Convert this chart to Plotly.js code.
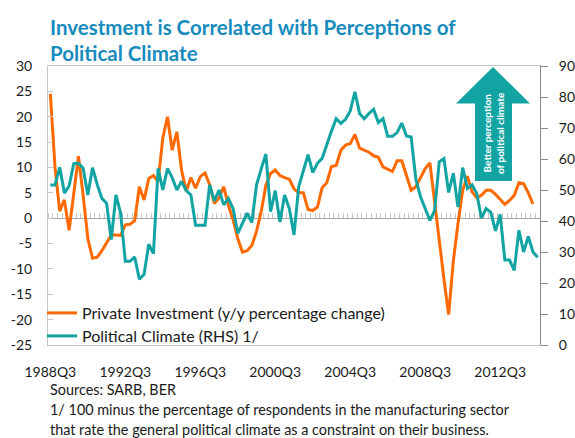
<!DOCTYPE html>
<html>
<head>
<meta charset="utf-8">
<script src="https://cdn.plot.ly/plotly-3.0.1.min.js"></script>
<style>
html,body{margin:0;padding:0;background:#fff;}
#chart{width:575px;height:438px;}
</style>
</head>
<body>
<div id="chart"></div>
<script>
// Quarterly categories 1988Q3 .. 2014Q3
const startYear = 1988, startQuarter = 3, nQuarters = 105;
const quarters = [];
for (let k = 0; k < nQuarters; k++) {
  const q = startQuarter - 1 + k;
  quarters.push((startYear + Math.floor(q / 4)) + 'Q' + (q % 4 + 1));
}
const xTickLabels = ['1988Q3','1992Q3','1996Q3','2000Q3','2004Q3','2008Q3','2012Q3'];
const leftTickVals = [-25,-20,-15,-10,-5,0,5,10,15,20,25,30];
const leftTickText = ['-25','-20','-15','-10','-5','0','5','10','15','20','25','30'];
const rightTickVals = [0,10,20,30,40,50,60,70,80,90];

// Private investment, y/y % change (left axis)
const privateInvestment = [
  24.5, 10, 1.4, 3.6, -2.4, 5, 12.2, 4.5, -4, -7.9,
  -7.7, -6.4, -4.8, -3.3, -3.3, -3.4, -1.3, -1.2, -0.5, 6.2,
  3.6, 7.8, 8.4, 7.2, 15.8, 20, 13.4, 17, 9.5, 5.3,
  8, 5.9, 8.2, 8.9, 6.6, 2.9, 4, 6.2, 2.5, -0.3,
  -4, -6.7, -6.4, -5.4, -2.6, 1.3, 6.5, 8.8, 9.5, 8.4,
  8, 7.7, 5.8, 5, 5, 1.7, 1.5, 2.2, 6, 7,
  10.2, 10.4, 13.4, 14.4, 14.7, 16.5, 13.8, 13.4, 13, 12.3,
  12, 10.1, 9.7, 9.2, 11.3, 11.3, 8.4, 5.5, 6.2, 8,
  9.8, 10.9, 3, -4.5, -12, -19, -8.5, -1, 5.5, 8.3,
  5.2, 4, 4.5, 5.5, 5.5, 4.7, 3.8, 2.7, 3.5, 4.5,
  7, 6.8, 5, 2.8, null
];

// Political climate index (right axis)
const politicalClimate = [
  51.6, 51.6, 57.3, 49, 51.3, 58.5, 58.6, 57, 48.4, 57.2,
  51.8, 47.3, 45.7, 34, 48.4, 42.5, 27, 27, 28.4, 21.2,
  22.8, 32.5, 29.5, 57, 50, 57, 54, 50, 52.8, 49.8,
  48.4, 38.6, 38.6, 38.6, 51.6, 46.5, 50, 45.2, 47.3, 44,
  36, 39.5, 42.5, 39.5, 51.6, 56.8, 61.6, 43, 49.8, 39.7,
  48.4, 44, 35.5, 51, 56.5, 61.4, 55.6, 58.6, 60.2, 64.8,
  69, 73, 71.5, 72.8, 75.5, 81.7, 74.7, 73, 74.7, 76,
  71.8, 73, 67.3, 67.3, 68.5, 71.6, 67.4, 67.1, 53.5, 47.8,
  44.3, 40.2, 43.3, 59.1, 60.1, 49.2, 55.4, 44.5, 57.2, 50.5,
  51.7, 48.9, 40.9, 44, 42.8, 36.8, 42.1, 27.4, 27.4, 24.1,
  37, 30, 35, 30, 28.3
];

const ORANGE = '#ff6a00';
const TEAL = '#12a3a3';
const FONT = 'Lato, "Open Sans", sans-serif';

// plot area in pixels: left 48, right 540, top 66, bottom 345
const L = 48, R = 540, T = 66, B = 345;
const fx = px => (px - L) / (R - L);
const fy = py => (B - py) / (B - T);

const traces = [
  {
    x: quarters, y: privateInvestment, type: 'scatter', mode: 'lines',
    name: 'Private Investment (y/y percentage change)',
    line: {color: ORANGE, width: 3}, xaxis: 'x', yaxis: 'y',
    legend: 'legend', connectgaps: false, hoverinfo: 'skip'
  },
  {
    x: quarters, y: politicalClimate, type: 'scatter', mode: 'lines',
    name: 'Political Climate (RHS) 1/',
    line: {color: TEAL, width: 3}, xaxis: 'x2', yaxis: 'y2',
    legend: 'legend2', hoverinfo: 'skip'
  }
];

const arrowPath = 'M ' + fx(493) + ' ' + fy(67) +
  ' L ' + fx(530) + ' ' + fy(103.5) +
  ' L ' + fx(512) + ' ' + fy(103.5) +
  ' L ' + fx(512) + ' ' + fy(181) +
  ' L ' + fx(475) + ' ' + fy(181) +
  ' L ' + fx(475) + ' ' + fy(103.5) +
  ' L ' + fx(456) + ' ' + fy(103.5) + ' Z';

const FOOT = {family: FONT, size: 14.4, color: '#1a1a1a'};

const layout = {
  width: 575, height: 438,
  margin: {l: L, r: 575 - R, t: T, b: 438 - B, pad: 0},
  paper_bgcolor: '#ffffff', plot_bgcolor: '#ffffff',
  font: {family: FONT, size: 14, color: '#1a1a1a'},
  showlegend: true,
  title: {
    text: 'Investment is Correlated with Perceptions of<br>Political Climate',
    font: {family: FONT, size: 20.5, color: '#178bbd', weight: 'bold'},
    xref: 'paper', x: 0.004, xanchor: 'left',
    yref: 'container', y: 0.921, yanchor: 'top'
  },
  xaxis: {
    type: 'category', categoryorder: 'array', categoryarray: quarters,
    range: [-0.5, nQuarters - 0.5],
    tickmode: 'array', tickvals: xTickLabels, ticktext: xTickLabels,
    ticks: '', showgrid: false, zeroline: false,
    showline: true, linecolor: '#c8c8c8', linewidth: 1, mirror: true,
    ticklabelstandoff: 14,
    tickfont: {family: FONT, size: 14, color: '#1a1a1a'}
  },
  xaxis2: {
    type: 'category', categoryorder: 'array', categoryarray: quarters,
    range: [-0.5, nQuarters - 0.5],
    overlaying: 'x', anchor: 'free', position: 25 / 55, side: 'top',
    tickmode: 'linear', tick0: 0, dtick: 1, tickson: 'boundaries',
    ticks: 'outside', ticklen: 5, tickcolor: '#c8c8c8', tickwidth: 1,
    showticklabels: false, showgrid: false, zeroline: false,
    showline: true, linecolor: '#a6a6a6', linewidth: 1,
    layer: 'below traces'
  },
  yaxis: {
    range: [-25, 30], tickmode: 'array', tickvals: leftTickVals, ticktext: leftTickText,
    showgrid: false, zeroline: false,
    showline: true, linecolor: '#c8c8c8', linewidth: 1,
    ticks: 'inside', ticklen: 5, tickcolor: '#c8c8c8',
    ticklabelstandoff: 12,
    tickfont: {family: FONT, size: 14, color: '#1a1a1a'}
  },
  yaxis2: {
    range: [0, 90], tickmode: 'array', tickvals: rightTickVals,
    overlaying: 'y', side: 'right', anchor: 'x',
    showgrid: false, zeroline: false,
    showline: true, linecolor: '#8c8c8c', linewidth: 1,
    ticks: 'outside', ticklen: 7, tickcolor: '#8c8c8c',
    ticklabelstandoff: 8,
    tickfont: {family: FONT, size: 14, color: '#1a1a1a'}
  },
  legend: {
    x: fx(42), y: fy(313), xanchor: 'left', yanchor: 'middle',
    bgcolor: 'rgba(0,0,0,0)', borderwidth: 0,
    font: {family: FONT, size: 16, color: '#1a1a1a'}
  },
  legend2: {
    x: fx(42), y: fy(336), xanchor: 'left', yanchor: 'middle',
    bgcolor: 'rgba(0,0,0,0)', borderwidth: 0,
    font: {family: FONT, size: 16, color: '#1a1a1a'}
  },
  shapes: [
    {type: 'path', xref: 'paper', yref: 'paper', path: arrowPath,
     fillcolor: TEAL, line: {width: 0}, layer: 'above'}
  ],
  annotations: [
    {xref: 'paper', yref: 'paper', x: fx(493), y: fy(133),
     text: '<b>Better perception<br>of political climate</b>', textangle: -90,
     showarrow: false, font: {family: FONT, size: 10, color: '#ffffff'},
     xanchor: 'center', yanchor: 'middle'},
    {xref: 'paper', yref: 'paper', x: 0, y: fy(389), xanchor: 'left', yanchor: 'middle',
     text: 'Sources: SARB, BER', showarrow: false, font: FOOT},
    {xref: 'paper', yref: 'paper', x: 0, y: fy(409.5), xanchor: 'left', yanchor: 'middle',
     text: '1/ 100 minus the percentage of respondents in the manufacturing sector', showarrow: false,
     font: FOOT},
    {xref: 'paper', yref: 'paper', x: 0, y: fy(429), xanchor: 'left', yanchor: 'middle',
     text: 'that rate the general political climate as a constraint on their business.', showarrow: false,
     font: FOOT}
  ]
};

Plotly.newPlot('chart', traces, layout, {displayModeBar: false, staticPlot: true});
</script>
</body>
</html>
